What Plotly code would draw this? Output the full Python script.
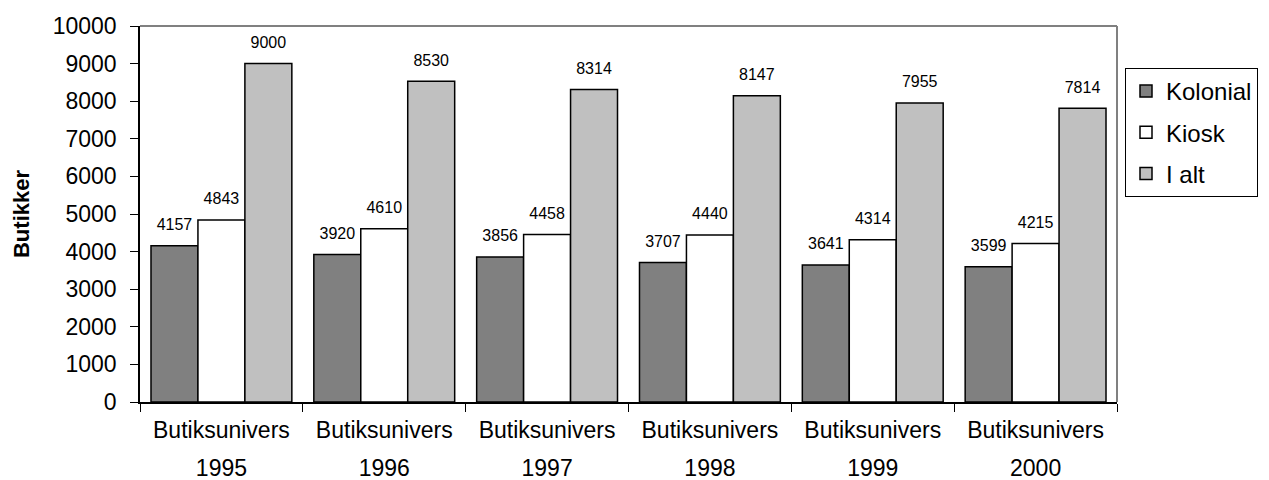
import plotly.graph_objects as go

years = ["1995", "1996", "1997", "1998", "1999", "2000"]
group_label = "Butiksunivers"
kolonial = [4157, 3920, 3856, 3707, 3641, 3599]
kiosk = [4843, 4610, 4458, 4440, 4314, 4215]
i_alt = [9000, 8530, 8314, 8147, 7955, 7814]
y_ticks = list(range(0, 10001, 1000))

series = [("Kolonial", kolonial, "#808080"), ("Kiosk", kiosk, "#FFFFFF"), ("I alt", i_alt, "#C0C0C0")]

FONT = "Liberation Sans, Arial, sans-serif"
# page body has an 8px margin; compensate so plot area lands at 140..1117 x 26..402
W, H = 1269 - 8, 480 - 8
L, T = 140 - 8, 26 - 8
R = W - (1117 - 8)
B = H - (402 - 8)
GAP = 0.135

fig = go.Figure()
for name, vals, col in series:
    fig.add_trace(go.Bar(
        x=years, y=vals, name=name, legendgroup=name,
        marker=dict(color=col, line=dict(color="black", width=1.5)),
        hoverinfo="x+y+name",
    ))
for name, vals, col in series:
    fig.add_trace(go.Scatter(
        x=years, y=vals, name=name, legendgroup=name, showlegend=False,
        mode="markers+text", text=[str(v) for v in vals], textposition="top center",
        marker=dict(size=17, color="rgba(0,0,0,0)"),
        textfont=dict(size=16, color="black", family=FONT),
        cliponaxis=False, hoverinfo="skip",
    ))

fig.update_layout(
    width=W, height=H,
    margin=dict(l=L, r=R, t=T, b=B, autoexpand=False),
    paper_bgcolor="white", plot_bgcolor="white",
    barmode="group", bargap=GAP, bargroupgap=0,
    scattermode="group", scattergap=GAP,
    font=dict(family=FONT, color="black"),
    legend=dict(
        x=(1125 - 140) / (1117 - 140), xanchor="left",
        y=(402 - 68) / (402 - 26), yanchor="top",
        bordercolor="black", borderwidth=1, bgcolor="white",
        font=dict(size=24, family=FONT, color="black"),
        tracegroupgap=7, traceorder="grouped",
    ),
    xaxis=dict(
        type="category", categoryarray=years,
        tickvals=years, ticktext=[group_label] * len(years),
        showline=True, linecolor="black", linewidth=1.5,
        ticks="outside", tickson="boundaries", ticklen=8, tickcolor="black",
        ticklabelstandoff=7,
        tickfont=dict(size=23, family=FONT, color="black"),
        showgrid=False, zeroline=False,
    ),
    xaxis2=dict(
        overlaying="x", side="bottom", anchor="y",
        range=[-0.5, len(years) - 0.5],
        tickvals=list(range(len(years))), ticktext=years,
        ticks="", showline=False, showgrid=False, zeroline=False,
        ticklabelstandoff=50,
        tickfont=dict(size=23, family=FONT, color="black"),
    ),
    yaxis=dict(
        range=[0, 10000], tickvals=y_ticks, tickformat="d",
        showline=True, linecolor="black", linewidth=1.5,
        ticks="outside", ticklen=8, tickcolor="black",
        ticklabelstandoff=9,
        tickfont=dict(size=23, family=FONT, color="black"),
        showgrid=False, zeroline=False,
        title=dict(text="<b>Butikker</b>", font=dict(size=22, family=FONT, color="black"), standoff=17),
    ),
    shapes=[
        dict(type="line", xref="paper", yref="paper", x0=0, x1=1, y0=1, y1=1,
             line=dict(color="#808080", width=2)),
        dict(type="line", xref="paper", yref="paper", x0=1, x1=1, y0=0, y1=1,
             line=dict(color="#808080", width=2)),
    ],
)
# invisible dummy trace so xaxis2 is drawn
fig.add_trace(go.Scatter(x=[0], y=[0], xaxis="x2", yaxis="y", mode="markers",
                         marker=dict(size=0.1, color="rgba(0,0,0,0)"), showlegend=False, hoverinfo="skip"))

fig.write_html("out.html")
